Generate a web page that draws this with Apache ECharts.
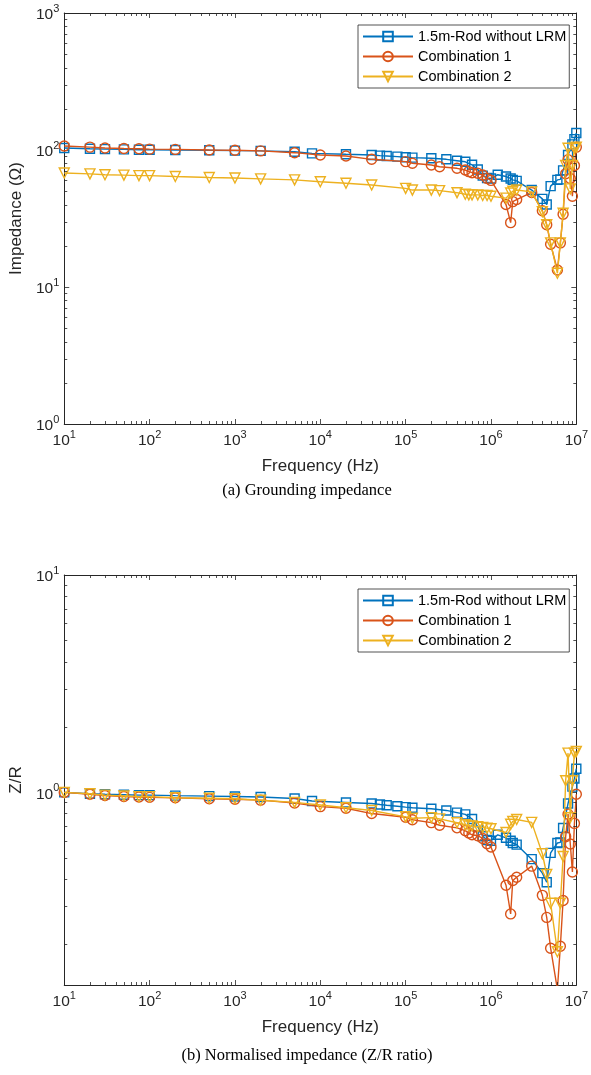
<!DOCTYPE html>
<html>
<head>
<meta charset="utf-8">
<script src="https://cdn.jsdelivr.net/npm/echarts@6/dist/echarts.min.js"></script>
<style>
  html, body { margin: 0; padding: 0; background: #fff; }
  #chart { width: 591px; height: 1075px; }
</style>
</head>
<body>
<div id="chart"></div>
<script>
// frequencies (Hz)
const freqRod = [10, 20, 30, 50, 75, 100, 200, 500, 1e3, 2e3, 5e3, 8e3, 2e4, 4e4, 5e4, 6e4, 8e4, 1e5, 1.2e5, 2e5,
  3e5, 4e5, 5e5, 6e5, 7e5, 8e5, 9e5, 1e6, 1.2e6, 1.5e6, 1.7e6, 1.8e6, 2e6, 3e6, 4e6, 4.5e6, 5e6, 6e6, 6.5e6, 7e6,
  8e6, 9e6, 9.5e6, 1e7]
const freqComb = [10, 20, 30, 50, 75, 100, 200, 500, 1e3, 2e3, 5e3, 1e4, 2e4, 4e4, 1e5, 1.2e5, 2e5, 2.5e5, 4e5, 5e5,
  5.5e5, 6e5, 7e5, 8e5, 9e5, 1e6, 1.5e6, 1.7e6, 1.8e6, 2e6, 3e6, 4e6, 4.5e6, 5e6, 6e6, 6.5e6, 7e6, 7.5e6, 8e6, 8.5e6,
  9e6, 9.5e6, 1e7]

// (a) grounding impedance, ohm
const zRod = [103.5, 102, 101.5, 101, 100.5, 100.5, 100, 99.5, 99, 98.5, 97, 94.5, 93, 92, 91, 90.4, 89.4, 88.5, 88, 87,
  85.5, 83.5, 82, 78, 72, 65, 62.5, 62, 66, 64, 62, 60.5, 59.5, 51, 44, 40, 54.5, 60.5, 61, 71,
  92, 110, 120, 133]
const zComb1 = [107, 105, 103.5, 102.5, 102, 101.5, 101, 100, 99.5, 98.5, 95.6, 92, 90.4, 85.5, 82.2, 80, 77.7, 75.5, 73.5, 71.4,
  69.5, 68.3, 67.6, 65.7, 62.1, 60, 40, 29.5, 42, 43.5, 49, 36, 28.5, 20.5, 13.3, 21, 34, 67, 85, 62,
  46, 77, 105]
const zComb2 = [68, 67, 66, 65.5, 65, 65, 64, 63, 62.5, 61.5, 60.5, 58.7, 57.2, 55.5, 52.5, 51, 51, 50.5, 48.8, 47.5,
  47, 47, 47, 46.5, 46.5, 46, 44.5, 48.5, 50, 51, 49.5, 35.5, 28.5, 21, 12.6, 21, 34.5, 77, 103, 52,
  77, 103, 105]

// (b) normalised impedance Z/R
const ratioRod = [1.000, 0.986, 0.981, 0.976, 0.971, 0.971, 0.966, 0.961, 0.957, 0.952, 0.937, 0.913, 0.899, 0.889, 0.879,
  0.873, 0.864, 0.855, 0.850, 0.841, 0.826, 0.807, 0.792, 0.754, 0.696, 0.628, 0.604, 0.599, 0.638, 0.618,
  0.599, 0.585, 0.575, 0.493, 0.425, 0.386, 0.527, 0.585, 0.589, 0.686, 0.889, 1.063, 1.159, 1.285]
const ratioComb1 = [1.000, 0.981, 0.967, 0.958, 0.953, 0.949, 0.944, 0.935, 0.930, 0.921, 0.893, 0.860, 0.845, 0.799, 0.768,
  0.748, 0.726, 0.706, 0.687, 0.667, 0.650, 0.638, 0.632, 0.614, 0.580, 0.561, 0.374, 0.276, 0.393, 0.407,
  0.458, 0.336, 0.266, 0.192, 0.124, 0.196, 0.318, 0.626, 0.794, 0.579, 0.430, 0.720, 0.981]
const ratioComb2 = [1.000, 0.985, 0.971, 0.963, 0.956, 0.956, 0.945, 0.940, 0.935, 0.920, 0.900, 0.875, 0.850, 0.825, 0.772,
  0.760, 0.765, 0.755, 0.725, 0.710, 0.700, 0.700, 0.695, 0.690, 0.685, 0.680, 0.654, 0.713, 0.735, 0.750,
  0.728, 0.522, 0.419, 0.309, 0.185, 0.309, 0.507, 1.132, 1.515, 0.765, 1.132, 1.515, 1.544]

const seriesNames = ['1.5m-Rod without LRM', 'Combination 1', 'Combination 2']
const minorSteps = [2, 3, 4, 5, 6, 7, 8, 9]

const axisColor = '#262626'
const colors = ['#0072BD', '#D95319', '#EDB120']
const symbols = ['rect', 'circle', 'triangle']
const symbolSizes = [9, 10, 10]
const font = 'Liberation Sans, Arial, Helvetica, sans-serif'

const chart = echarts.init(document.getElementById('chart'), null, { renderer: 'canvas' })

const powLabel = v => {
  const e = Math.log10(v)
  const r = Math.round(e)
  if (Math.abs(e - r) > 1e-6) return ''
  return '{b|10}{s|' + r + '}'
}
const richLabel = {
  b: { fontSize: 15.5, fontFamily: font, color: axisColor, padding: [4, 0, 0, 0], verticalAlign: 'bottom' },
  s: { fontSize: 11, fontFamily: font, color: axisColor, verticalAlign: 'top' }
}

const grids = [
  { left: 62, top: 13, width: 520, height: 411 },
  { left: 62, top: 575, width: 520, height: 410 }
]
const yRanges = [[1, 1000], [0.13, 10]]
const yNames = ['Impedance (Ω)', 'Z/R']

const xAxes = []
const yAxes = []
grids.forEach((g, gi) => {
  const base = {
    type: 'log', logBase: 10, gridIndex: gi,
    axisLine: { show: true, lineStyle: { color: axisColor, width: 1 } },
    axisTick: { show: true, inside: true, length: 5, lineStyle: { color: axisColor, width: 0.8 } },
    splitLine: { show: false }
  }
  xAxes.push(Object.assign({}, base, {
    min: 10, max: 1e7, splitNumber: 6, position: 'bottom',
    axisLabel: { formatter: powLabel, rich: richLabel, margin: 5 },
    name: 'Frequency (Hz)', nameLocation: 'middle', nameGap: 34,
    nameTextStyle: { fontSize: 17, fontFamily: font, color: axisColor }
  }))
  xAxes.push(Object.assign({}, base, {
    min: 10, max: 1e7, splitNumber: 6, position: 'top', axisLabel: { show: false }
  }))
  yAxes.push(Object.assign({}, base, {
    min: yRanges[gi][0], max: yRanges[gi][1], splitNumber: gi === 0 ? 3 : 2, position: 'left',
    axisLabel: { formatter: powLabel, rich: richLabel, margin: 5 },
    name: yNames[gi], nameLocation: 'middle', nameGap: 37,
    nameTextStyle: { fontSize: 17, fontFamily: font, color: axisColor }
  }))
  yAxes.push(Object.assign({}, base, {
    min: yRanges[gi][0], max: yRanges[gi][1], splitNumber: gi === 0 ? 3 : 2, position: 'right',
    axisLabel: { show: false }
  }))
})

// minor ticks at 2..9 x 10^k on all four sides
const minorData = (gi) => {
  const out = []
  for (let k = 1; k < 7; k++) minorSteps.forEach(m => out.push([m * Math.pow(10, k), yRanges[gi][0], 0]))
  const lo = Math.floor(Math.log10(yRanges[gi][0]))
  const hi = Math.round(Math.log10(yRanges[gi][1]))
  for (let k = lo; k < hi; k++) {
    minorSteps.forEach(m => {
      const v = m * Math.pow(10, k)
      if (v > yRanges[gi][0] && v < yRanges[gi][1]) out.push([10, v, 1])
    })
  }
  return out
}
const minorTick = (params, api) => {
  const cs = params.coordSys
  const p = api.coord([api.value(0), api.value(1)])
  const len = 3
  const style = { stroke: axisColor, lineWidth: 0.8 }
  if (api.value(2) === 0) {
    const x = Math.round(p[0]) + 0.5
    return { type: 'group', children: [
      { type: 'line', shape: { x1: x, y1: cs.y + cs.height, x2: x, y2: cs.y + cs.height - len }, style },
      { type: 'line', shape: { x1: x, y1: cs.y, x2: x, y2: cs.y + len }, style }
    ] }
  }
  const y = Math.round(p[1]) + 0.5
  return { type: 'group', children: [
    { type: 'line', shape: { x1: cs.x, y1: y, x2: cs.x + len, y2: y }, style },
    { type: 'line', shape: { x1: cs.x + cs.width, y1: y, x2: cs.x + cs.width - len, y2: y }, style }
  ] }
}

const lineSeries = (name, i, freq, vals, gi) => ({
  name, type: 'line',
  xAxisIndex: gi * 2, yAxisIndex: gi * 2,
  data: freq.map((f, j) => [f, vals[j]]),
  symbol: symbols[i], symbolSize: symbolSizes[i], symbolRotate: i === 2 ? 180 : 0,
  showAllSymbol: true,
  lineStyle: { color: colors[i], width: 1.4 },
  itemStyle: { color: 'rgba(255,255,255,0)', borderColor: colors[i], borderWidth: 1.4 },
  emphasis: { disabled: true },
  z: 3 + i
})

const series = []
grids.forEach((g, gi) => {
  series.push({
    type: 'custom', xAxisIndex: gi * 2, yAxisIndex: gi * 2,
    renderItem: minorTick, data: minorData(gi), silent: true, clip: false, z: 10,
    encode: { x: 0, y: 1 }
  })
})
series.push(lineSeries(seriesNames[0], 0, freqRod, zRod, 0))
series.push(lineSeries(seriesNames[1], 1, freqComb, zComb1, 0))
series.push(lineSeries(seriesNames[2], 2, freqComb, zComb2, 0))
series.push(lineSeries(seriesNames[0], 0, freqRod, ratioRod, 1))
series.push(lineSeries(seriesNames[1], 1, freqComb, ratioComb1, 1))
series.push(lineSeries(seriesNames[2], 2, freqComb, ratioComb2, 1))

const legendBase = {
  data: seriesNames, orient: 'vertical', left: 358,
  itemWidth: 50, itemHeight: 12, itemGap: 5,
  padding: [4, 3, 4, 4],
  borderColor: axisColor, borderWidth: 0.8, backgroundColor: '#fff',
  textStyle: { fontSize: 14.5, fontFamily: font, color: '#000' },
  selectedMode: false
}

const option = {
  animation: false,
  grid: grids,
  xAxis: xAxes,
  yAxis: yAxes,
  legend: [
    Object.assign({}, legendBase, { top: 25 }),
    Object.assign({}, legendBase, { top: 589 })
  ],
  series,
  graphic: [
    { type: 'text', x: 307, y: 491, style: { text: '(a) Grounding impedance', fontSize: 16.5,
      fontFamily: 'Liberation Serif, Times New Roman, serif', fill: '#000', textAlign: 'center', textVerticalAlign: 'middle' } },
    { type: 'text', x: 307, y: 1056, style: { text: '(b) Normalised impedance (Z/R ratio)', fontSize: 16.5,
      fontFamily: 'Liberation Serif, Times New Roman, serif', fill: '#000', textAlign: 'center', textVerticalAlign: 'middle' } }
  ]
}

chart.setOption(option)
</script>
</body>
</html>
